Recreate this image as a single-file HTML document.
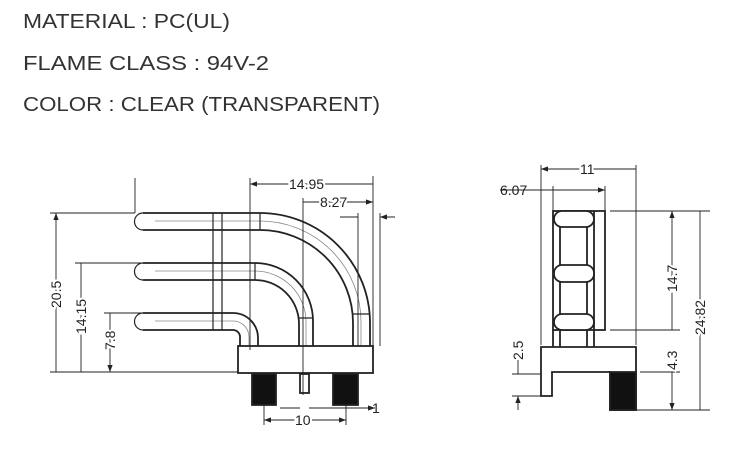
<!DOCTYPE html><html><head><style>body{margin:0;background:#fff}svg{display:block}</style></head><body>
<svg width="739" height="455" viewBox="0 0 739 455" xmlns="http://www.w3.org/2000/svg" font-family="Liberation Sans, sans-serif">
<defs><marker id="a" markerWidth="8" markerHeight="6" refX="8" refY="3" orient="auto-start-reverse"><path d="M0,0 L8,3 L0,6z" fill="#222"/></marker></defs>
<g fill="#333" font-size="20">
<text x="23" y="28" textLength="207" lengthAdjust="spacingAndGlyphs">MATERIAL : PC(UL)</text>
<text x="23" y="70" textLength="246" lengthAdjust="spacingAndGlyphs">FLAME CLASS : 94V-2</text>
<text x="23" y="111" textLength="357" lengthAdjust="spacingAndGlyphs">COLOR : CLEAR (TRANSPARENT)</text>
</g>
<g stroke="#222" fill="none" stroke-width="1.8">
<path d="M143,213 H260 A110,110 0 0 1 370,323 V346 M143,230 H260 A93,93 0 0 1 353,323 V346"/>
<path d="M143,263 H255 A58,58 0 0 1 313,321 V346 M143,280 H255 A44,44 0 0 1 299,324 V346"/>
<path d="M143,313 H233 A25,25 0 0 1 258,338 V346 M143,330 H233 A7,7 0 0 1 240,337 V346"/>
<g stroke-width="1.2">
<path d="M143,213 A8.5,8.5 0 0 0 143,230 M143,263 A8.5,8.5 0 0 0 143,280 M143,313 A8.5,8.5 0 0 0 143,330"/>
<path d="M155,221 H260 A101,101 0 0 1 361,322 V346 M155,271 H255 A51,51 0 0 1 306,322 V346 M155,321 H233 A16,16 0 0 1 249,337 V346" stroke="#888" stroke-width="0.8"/>
<path d="M213,213 V330 M222,213 V330 M260,213 V230 M255,263 V280 M299,318 H313 M353,314 H370"/>
</g>
<rect x="238" y="346" width="135" height="27"/>
<rect x="252" y="374" width="24" height="31" fill="#111"/>
<rect x="333" y="374" width="25" height="31" fill="#111"/>
<rect x="300" y="374" width="9" height="19"/>
<rect x="553" y="211" width="52" height="119"/>
<path d="M553,330 V347 M560,211 V347 M587,211 V347 M594,211 V347"/>
<rect x="554" y="211" width="40" height="16" rx="8" fill="#fff"/>
<rect x="554" y="265" width="40" height="17" rx="8" fill="#fff"/>
<rect x="554" y="314" width="40" height="16" rx="8" fill="#fff"/>
<path d="M541,347 H636 V410 H610 V372 H552 V396 H541 Z"/>
<rect x="610" y="372" width="26" height="38" fill="#111"/>
</g>
<g stroke="#222" stroke-width="0.9" fill="none">
<path d="M50,213 H135 M50,372 H238 M75,263 H143 M104,313 H143 M135,178 V213"/>
<path d="M56,213 V372 M81,263 V372 M110,313 V372" marker-start="url(#a)" marker-end="url(#a)"/>
<path d="M250,178 V350 M373,176 V346 M303,198 V395 M358,213 V346 M380,213 V346"/>
<path d="M250,184 H373 M303,202 H373" marker-start="url(#a)" marker-end="url(#a)"/>
<path d="M340,217 H358 M395,217 H380" marker-end="url(#a)"/>
<path d="M264,405 V425 M346,405 V425"/>
<path d="M264,420 H346" marker-start="url(#a)" marker-end="url(#a)"/>
<path d="M280,408 H300 M330,408 H309 M309,408 H375" marker-end="url(#a)"/>
<path d="M541,165 V345 M636,165 V345 M553,186 V211 M605,186 V211 M500,190 H553"/>
<path d="M541,169 H636 M553,190 H605" marker-start="url(#a)" marker-end="url(#a)"/>
<path d="M610,211 H710 M610,330 H680 M640,372 H680 M636,410 H710 M512,374 H541 M512,396 H541"/>
<path d="M672,211 V330 M700,211 V410 M672,372 V410" marker-start="url(#a)" marker-end="url(#a)"/>
<path d="M518,360 V374 M518,410 V396" marker-end="url(#a)"/>
</g>
<g fill="#222" font-size="14">
<text x="289" y="189" stroke="#fff" stroke-width="4" paint-order="stroke">14.95</text>
<text x="320" y="207" stroke="#fff" stroke-width="4" paint-order="stroke">8.27</text>
<text x="372" y="413">1</text>
<text x="295" y="425" stroke="#fff" stroke-width="4" paint-order="stroke">10</text>
<text transform="translate(61,308) rotate(-90)" stroke="#fff" stroke-width="4" paint-order="stroke">20.5</text>
<text transform="translate(86,334) rotate(-90)" stroke="#fff" stroke-width="4" paint-order="stroke">14.15</text>
<text transform="translate(115,350) rotate(-90)" stroke="#fff" stroke-width="4" paint-order="stroke">7.8</text>
<text x="580" y="174" stroke="#fff" stroke-width="4" paint-order="stroke">11</text>
<text x="500" y="195">6.07</text>
<text transform="translate(677,292) rotate(-90)" stroke="#fff" stroke-width="4" paint-order="stroke">14.7</text>
<text transform="translate(705,335) rotate(-90)" stroke="#fff" stroke-width="4" paint-order="stroke">24.82</text>
<text transform="translate(677,370) rotate(-90)" stroke="#fff" stroke-width="4" paint-order="stroke">4.3</text>
<text transform="translate(523,360) rotate(-90)">2.5</text>
</g>
</svg>
</body></html>
